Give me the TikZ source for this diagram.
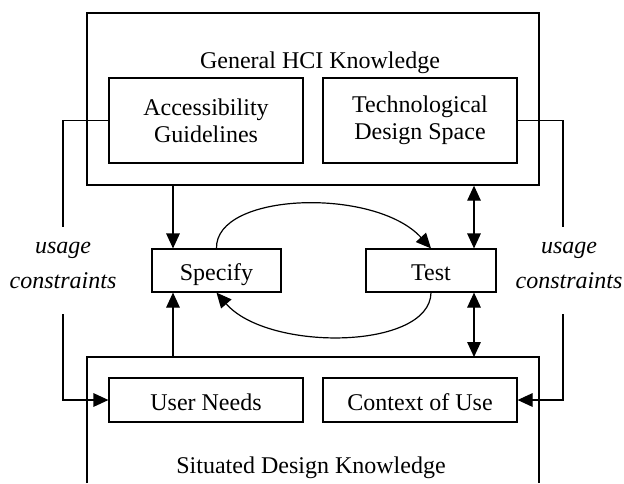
\documentclass[tikz,border=0pt]{standalone}
\usepackage{fontspec}
\setmainfont{Liberation Serif}
\usetikzlibrary{arrows.meta,calc}
\begin{document}
\begin{tikzpicture}[x=0.5pt,y=-0.5pt,
  line width=0.6pt,
  every node/.style={font=\fontsize{12}{13.5}\selectfont, inner sep=0pt},
  kbox/.style={draw, line width=0.7pt},
  ibox/.style={draw, line width=0.6pt, align=center},
  sbox/.style={draw, line width=0.6pt, text height=11pt, text depth=1pt},
  arr/.style={-{Triangle[length=7.5pt,width=6.8pt]}},
  darr/.style={{Triangle[length=7.5pt,width=6.8pt]}-{Triangle[length=7.5pt,width=6.8pt]}},
  uc/.style={font=\fontsize{12}{13.5}\selectfont\itshape, anchor=base}
]
\useasboundingbox (0,0) rectangle (624,483);
% General HCI Knowledge box
\node[kbox, minimum width=226pt, minimum height=86pt] (gen) at (313,99) {};
\node[anchor=base] (genlab) at (320,68) {General HCI Knowledge};
\node[ibox, minimum width=97pt, minimum height=42.5pt] (acc) at (206,120.5) {Accessibility\\Guidelines};
\node[ibox, minimum width=97pt, minimum height=42.5pt] (tech) at (420,120.5) {Technological\\Design Space};
% Situated Design Knowledge (open at bottom)
\coordinate (sitTL) at (87,357);
\coordinate (sitTR) at (539,357);
\draw[line width=0.7pt] (87,483) -- (sitTL) -- (sitTR) -- (539,483);
\node[anchor=base] (sitlab) at (311,473) {Situated Design Knowledge};
\node[sbox, minimum width=97pt, minimum height=22pt] (user) at (206,400) {User Needs};
\node[sbox, minimum width=97pt, minimum height=22pt] (ctx) at (420,400) {Context of Use};
% Specify / Test
\node[sbox, minimum width=64.5pt, minimum height=21.5pt] (spec) at (216.5,270.5) {Specify};
\node[sbox, minimum width=65pt, minimum height=21.5pt] (test) at (431,270.5) {Test};
% vertical connectors
\coordinate (xa) at (173,0);
\coordinate (xb) at (474,0);
\draw[arr] (gen.south -| xa) -- (spec.north -| xa);
\draw[arr] (sitTL -| xa) -- (spec.south -| xa);
\draw[darr] (gen.south -| xb) -- (test.north -| xb);
\draw[darr] (test.south -| xb) -- (sitTL -| xb);
% cycle curves
\draw[arr] (spec.north) .. controls (215,192) and (375,187) .. (test.north);
\draw[arr] (test.south) .. controls (430,350) and (268,352) .. (spec.south);
% usage constraints left
\coordinate (lu1) at (63,227);
\coordinate (lu2) at (63,314);
\draw (acc.west) -| (lu1);
\draw[arr] (lu2) |- (user.west);
\node[uc] (ucl1) at (63,253) {usage};
\node[uc] (ucl2) at (63,288) {constraints};
% usage constraints right
\coordinate (ru1) at (563,227);
\coordinate (ru2) at (563,314);
\draw (tech.east) -| (ru1);
\draw[arr] (ru2) |- (ctx.east);
\node[uc] (ucr1) at (569,253) {usage};
\node[uc] (ucr2) at (569,288) {constraints};
\end{tikzpicture}
\end{document}
